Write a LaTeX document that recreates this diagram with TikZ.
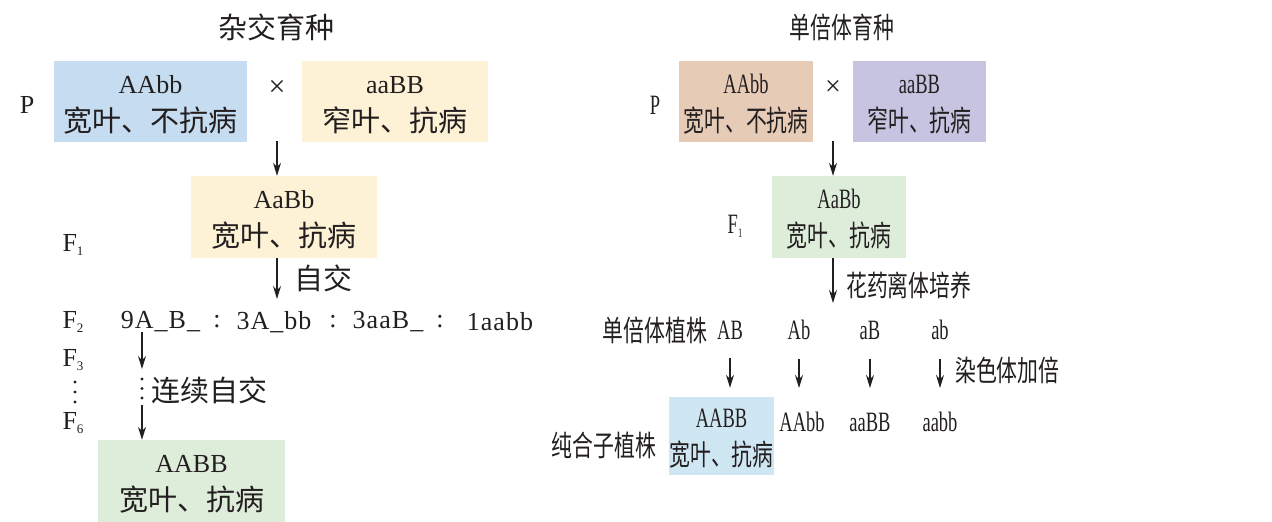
\documentclass[tikz,border=0pt]{standalone}
\usepackage{fontspec}
\setmainfont{Liberation Serif}
\newfontfamily\cjk{Noto Sans CJK SC}
\newfontfamily\cjkc[FakeStretch=0.72]{Noto Sans CJK SC}
\newfontfamily\serc[FakeStretch=0.66]{Liberation Serif}
\newfontfamily\serw[LetterSpace=4]{Liberation Serif}
\usetikzlibrary{arrows.meta}
\definecolor{ink}{HTML}{231F20}
\definecolor{cblue}{HTML}{C6DDF1}
\definecolor{cyel}{HTML}{FDF2D5}
\definecolor{cgreen}{HTML}{DDEDD9}
\definecolor{cbrown}{HTML}{E6CBB6}
\definecolor{cpurp}{HTML}{C6C4E1}
\definecolor{cblue2}{HTML}{CFE6F3}
\newcommand\lsub[1]{\raisebox{-0.3ex}{\fontsize{13}{13}\selectfont #1}}
\tikzset{
  lat/.style={font=\fontsize{26}{30}\selectfont, text=ink, inner sep=0pt},
  latw/.style={font=\fontsize{26}{30}\selectfont\serw, text=ink, inner sep=0pt},
  latc/.style={font=\fontsize{28}{30}\selectfont\serc, text=ink, inner sep=0pt},
  zh/.style={font=\fontsize{29}{30}\selectfont\cjk, text=ink, inner sep=0pt},
  zhc/.style={font=\fontsize{29}{30}\selectfont\cjkc, text=ink, inner sep=0pt},
  gbox/.style={draw=none, inner sep=0pt, align=center, text=ink,
     font=\fontsize{26}{38}\selectfont},
  gboxc/.style={draw=none, inner sep=0pt, align=center, text=ink,
     font=\fontsize{28}{38}\selectfont\serc},
  arr/.style={draw=ink, line width=1.4pt, -{Stealth[length=13pt,width=8pt]}},
  dotc/.style={fill=ink, draw=none, circle, inner sep=0pt, minimum size=3.4pt},
}
\begin{document}
\begin{tikzpicture}[x=1pt,y=-1pt]
\useasboundingbox (0,0) rectangle (1272,522);
% ---------- left: 杂交育种 ----------
\node[zh] (tL) at (276,27) {杂交育种};
\node[lat] (PL) at (27,105) {P};
\node[gbox, fill=cblue, minimum width=193pt, minimum height=81pt] (pL1) at (150.5,101.5)
  {\rule{0pt}{24pt}AAbb\\{\cjk\fontsize{29}{30}\selectfont 宽叶、不抗病}};
\node[lat, font=\fontsize{30}{30}\selectfont] (xL) at (277,88) {×};
\node[gbox, fill=cyel, minimum width=186pt, minimum height=81pt] (pL2) at (395,101.5)
  {\rule{0pt}{24pt}aaBB\\{\cjk\fontsize{29}{30}\selectfont 窄叶、抗病}};
\node[gbox, fill=cyel, minimum width=186pt, minimum height=82pt] (f1L) at (284,217)
  {\rule{0pt}{24pt}AaBb\\{\cjk\fontsize{29}{30}\selectfont 宽叶、抗病}};
\draw[arr, shorten <=45pt] (xL) -- (xL |- f1L.north);
\node[lat] (F1L) at (73,245) {F\lsub{1}};
\coordinate (s2) at (277,299);
\draw[arr] (f1L.south -| s2) -- (s2);
\node[zh, anchor=west] (zj) at (294,278) {自交};
\node[lat] (F2L) at (73,322) {F\lsub{2}};
\node[latw] (g1) at (160.5,322) {9A\_B\_};
\node[lat] (c1) at (217,322) {:};
\node[latw] (g2) at (274,322) {3A\_bb};
\node[lat] (c2) at (333,322) {:};
\node[latw] (g3) at (388,322) {3aaB\_};
\node[lat] (c3) at (440,322) {:};
\node[latw] (g4) at (500,322) {1aabb};
\coordinate (s3) at (142,369);
\draw[arr] (142,332) -- (s3);
\node[dotc] (d1) at (142,379) {};
\node[dotc] (d2) at (142,388.5) {};
\node[dotc] (d3) at (142,398) {};
\node[zh, anchor=west] (lx) at (151,390) {连续自交};
\node[gbox, fill=cgreen, minimum width=187pt, minimum height=82pt] (fL) at (191.5,481)
  {\rule{0pt}{24pt}AABB\\{\cjk\fontsize{29}{30}\selectfont 宽叶、抗病}};
\coordinate (s4) at (142,405);
\draw[arr] (s4) -- (s4 |- fL.north);
\node[lat] (F3L) at (73,360) {F\lsub{3}};
\node[dotc] (e1) at (75,382) {};
\node[dotc] (e2) at (75,392) {};
\node[dotc] (e3) at (75,402) {};
\node[lat] (F6L) at (73,423) {F\lsub{6}};
% ---------- right: 单倍体育种 ----------
\node[zhc] (tR) at (842,27) {单倍体育种};
\node[latc] (PR) at (655,105) {P};
\node[gboxc, fill=cbrown, minimum width=134pt, minimum height=81pt] (pR1) at (746,101.5)
  {\rule{0pt}{24pt}AAbb\\{\cjkc\fontsize{29}{30}\selectfont 宽叶、不抗病}};
\node[latc, font=\fontsize{28}{30}\selectfont] (xR) at (833,88) {×};
\node[gboxc, fill=cpurp, minimum width=133pt, minimum height=81pt] (pR2) at (919.5,101.5)
  {\rule{0pt}{24pt}aaBB\\{\cjkc\fontsize{29}{30}\selectfont 窄叶、抗病}};
\node[gboxc, fill=cgreen, minimum width=134pt, minimum height=82pt] (f1R) at (839,217)
  {\rule{0pt}{24pt}AaBb\\{\cjkc\fontsize{29}{30}\selectfont 宽叶、抗病}};
\draw[arr, shorten <=45pt] (xR) -- (xR |- f1R.north);
\node[latc] (F1R) at (735,226) {F\lsub{1}};
\coordinate (r2) at (833,303);
\draw[arr] (f1R.south -| r2) -- (r2);
\node[zhc, anchor=west] (hy) at (846,285) {花药离体培养};
\node[zhc] (dbt) at (655,330) {单倍体植株};
\node[latc] (AB) at (730,330) {AB};
\node[latc] (Ab) at (799,330) {Ab};
\node[latc] (aB) at (870,330) {aB};
\node[latc] (ab) at (940,330) {ab};
\node[zhc, anchor=west] (rs) at (955,370) {染色体加倍};
\node[gboxc, fill=cblue2, minimum width=103pt, minimum height=78pt] (fR) at (721.5,436)
  {\rule{0pt}{24pt}AABB\\{\cjkc\fontsize{29}{30}\selectfont 宽叶、抗病}};
\node[latc] (AAbb) at (802,422) {AAbb};
\node[latc] (aaBB) at (870,422) {aaBB};
\node[latc] (aabb) at (940,422) {aabb};
\node[zhc] (chz) at (604,445) {纯合子植株};
\draw[arr, shorten <=19pt, shorten >=9pt] (AB) -- (AB |- fR.north);
\draw[arr, shorten <=19pt, shorten >=34pt] (Ab) -- (Ab |- AAbb);
\draw[arr, shorten <=19pt, shorten >=34pt] (aB) -- (aB |- aaBB);
\draw[arr, shorten <=19pt, shorten >=34pt] (ab) -- (ab |- aabb);
\end{tikzpicture}
\end{document}
